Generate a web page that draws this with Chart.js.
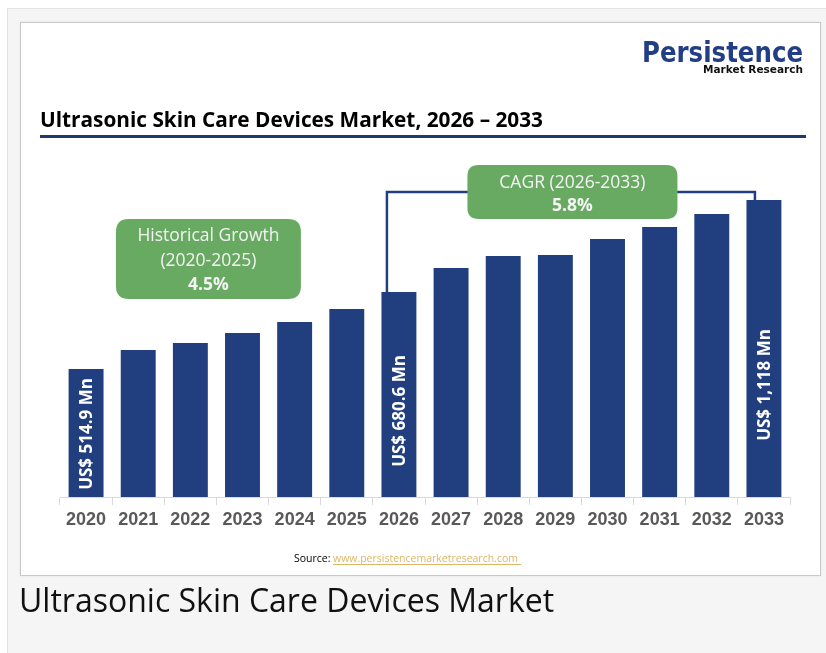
<!DOCTYPE html>
<html>
<head>
<meta charset="utf-8">
<script src="https://cdn.jsdelivr.net/npm/chart.js@4.4.1/dist/chart.umd.min.js"></script>
<style>
    html, body { margin: 0; padding: 0; background: #ffffff; }
    body { width: 826px; height: 653px; position: relative; overflow: hidden; font-family: "Open Sans", sans-serif; }
    #frame { position: absolute; left: 7px; top: 8px; right: 0; bottom: 0; background: #f5f5f5; border-left: 1px solid #e2e2e2; border-top: 1px solid #e2e2e2; }
    #card { position: absolute; left: 20px; top: 22px; width: 799px; height: 552px; background: #ffffff; border: 1px solid #c9c9c9; box-shadow: 0 0 2px rgba(0,0,0,0.08); }
    #chartCanvas { position: absolute; left: 0; top: 0; }
</style>
</head>
<body>
<div id="frame"></div>
<div id="card"></div>
<canvas id="chartCanvas" width="826" height="653"></canvas>
<script>
// Datos (US$ Mn)
const years = ['2020', '2021', '2022', '2023', '2024', '2025', '2026', '2027', '2028', '2029', '2030', '2031', '2032', '2033'];
const marketValues = [514.9, 582.6, 607.6, 643.3, 682.6, 729.0, 789.6, 875.3, 918.1, 921.7, 978.8, 1021.6, 1068.0, 1118];
const barLabels = ['US$ 514.9 Mn', null, null, null, null, null, 'US$ 680.6 Mn', null, null, null, null, null, null, 'US$ 1,118 Mn'];
const historicalText = ['Historical Growth', '(2020-2025)', '4.5%'];
const cagrText = ['CAGR (2026-2033)', '5.8%'];

const NAVY = '#213f7e';
const GREEN = '#69aa63';

function roundRect(ctx, x, y, w, h, r) {
    ctx.beginPath();
    ctx.moveTo(x + r, y);
    ctx.lineTo(x + w - r, y);
    ctx.quadraticCurveTo(x + w, y, x + w, y + r);
    ctx.lineTo(x + w, y + h - r);
    ctx.quadraticCurveTo(x + w, y + h, x + w - r, y + h);
    ctx.lineTo(x + r, y + h);
    ctx.quadraticCurveTo(x, y + h, x, y + h - r);
    ctx.lineTo(x, y + r);
    ctx.quadraticCurveTo(x, y, x + r, y);
    ctx.closePath();
}

// Textos de la tarjeta: título, logo, fuente y pie
const frameTexts = {
    id: 'frameTexts',
    afterDraw(chart) {
        const ctx = chart.ctx;
        ctx.save();
        ctx.textBaseline = 'alphabetic';

        ctx.fillStyle = '#000000';
        ctx.textAlign = 'left';
        ctx.font = 'bold 21px "Open Sans"';
        ctx.fillText('Ultrasonic Skin Care Devices Market, 2026 \u2013 2033', 40, 127, 503);

        ctx.fillStyle = '#1f3a6e';
        ctx.fillRect(40, 135, 766, 3);

        ctx.textAlign = 'right';
        ctx.fillStyle = '#223f86';
        ctx.font = 'bold 28px "DejaVu Sans"';
        ctx.fillText('Persistence', 803, 62, 161);
        ctx.fillStyle = '#111111';
        ctx.font = 'bold 11px "DejaVu Sans"';
        ctx.fillText('Market Research', 803, 73, 100);

        ctx.textAlign = 'left';
        ctx.font = '10.5px "Open Sans"';
        ctx.fillStyle = '#000000';
        ctx.fillText('Source:', 294, 562);
        ctx.fillStyle = '#dfb664';
        ctx.fillText('www.persistencemarketresearch.com', 333, 562, 188);
        ctx.fillRect(333, 564, 188, 1);

        ctx.fillStyle = '#111111';
        ctx.font = '32px "Open Sans"';
        ctx.fillText('Ultrasonic Skin Care Devices Market', 19, 612);
        ctx.restore();
    }
};

// Etiquetas dentro de las barras, corchete CAGR y cuadros verdes
const annotations = {
    id: 'annotations',
    afterDatasetsDraw(chart) {
        const ctx = chart.ctx;
        const bars = chart.getDatasetMeta(0).data;
        const area = chart.chartArea;
        const labelOffsets = { 0: 63, 6: 86, 13: 112 };

        ctx.save();
        ctx.fillStyle = '#ffffff';
        ctx.font = 'bold 17px "Open Sans"';
        ctx.textAlign = 'center';
        ctx.textBaseline = 'middle';
        barLabels.forEach((label, i) => {
            if (!label) return;
            ctx.save();
            ctx.translate(bars[i].x + 1, area.bottom - labelOffsets[i]);
            ctx.rotate(-Math.PI / 2);
            ctx.fillText(label, 0, 0);
            ctx.restore();
        });

        // corchete 2026 - 2033
        const b0 = bars[6], b1 = bars[13];
        const lineY = b1.y - 8;
        const xL = b0.x - 12, xR = b1.x - 9;
        ctx.strokeStyle = NAVY;
        ctx.lineWidth = 2.5;
        ctx.beginPath();
        ctx.moveTo(xL, b0.y);
        ctx.lineTo(xL, lineY);
        ctx.lineTo(xR, lineY);
        ctx.lineTo(xR, b1.y);
        ctx.stroke();

        // cuadro CAGR
        const cx = (xL + xR) / 2 + 1.5;
        ctx.fillStyle = GREEN;
        roundRect(ctx, cx - 105, lineY - 27, 210, 54, 11);
        ctx.fill();
        ctx.fillStyle = '#f4f4f4';
        ctx.font = '17.5px "Open Sans"';
        ctx.fillText(cagrText[0], cx, lineY - 9);
        ctx.font = 'bold 17.5px "Open Sans"';
        ctx.fillText(cagrText[1], cx, lineY + 14);

        // cuadro crecimiento histórico
        const hx = (bars[0].x + bars[5].x) / 2 - 8;
        const hy = area.top + 59;
        ctx.fillStyle = GREEN;
        roundRect(ctx, hx - 92.5, hy - 40, 185, 80, 13);
        ctx.fill();
        ctx.fillStyle = '#f4f4f4';
        ctx.font = '17.5px "Open Sans"';
        ctx.fillText(historicalText[0], hx, hy - 23);
        ctx.fillText(historicalText[1], hx, hy + 2);
        ctx.font = 'bold 17.5px "Open Sans"';
        ctx.fillText(historicalText[2], hx, hy + 26);
        ctx.restore();
    }
};

const ctx = document.getElementById('chartCanvas').getContext('2d');
new Chart(ctx, {
    type: 'bar',
    data: {
        labels: years,
        datasets: [{
            label: 'Ultrasonic Skin Care Devices Market',
            data: marketValues,
            backgroundColor: NAVY,
            borderWidth: 0,
            barPercentage: 0.67,
            categoryPercentage: 1
        }]
    },
    options: {
        responsive: false,
        animation: false,
        layout: { padding: { left: 60, right: 36, top: 200, bottom: 116 } },
        scales: {
            x: {
                afterFit(scale) { scale.height = 40; },
                grid: { display: true, drawOnChartArea: false, drawTicks: true, tickLength: 8, color: '#d9d9d9' },
                border: { display: true, color: '#d9d9d9' },
                ticks: {
                    color: '#595959',
                    padding: 4,
                    font: { family: 'Liberation Sans', size: 18, weight: 'bold' }
                }
            },
            y: { display: false, min: 58, max: 1118 }
        },
        plugins: {
            legend: { display: false },
            tooltip: { enabled: false }
        }
    },
    plugins: [annotations, frameTexts]
});
</script>
</body>
</html>
